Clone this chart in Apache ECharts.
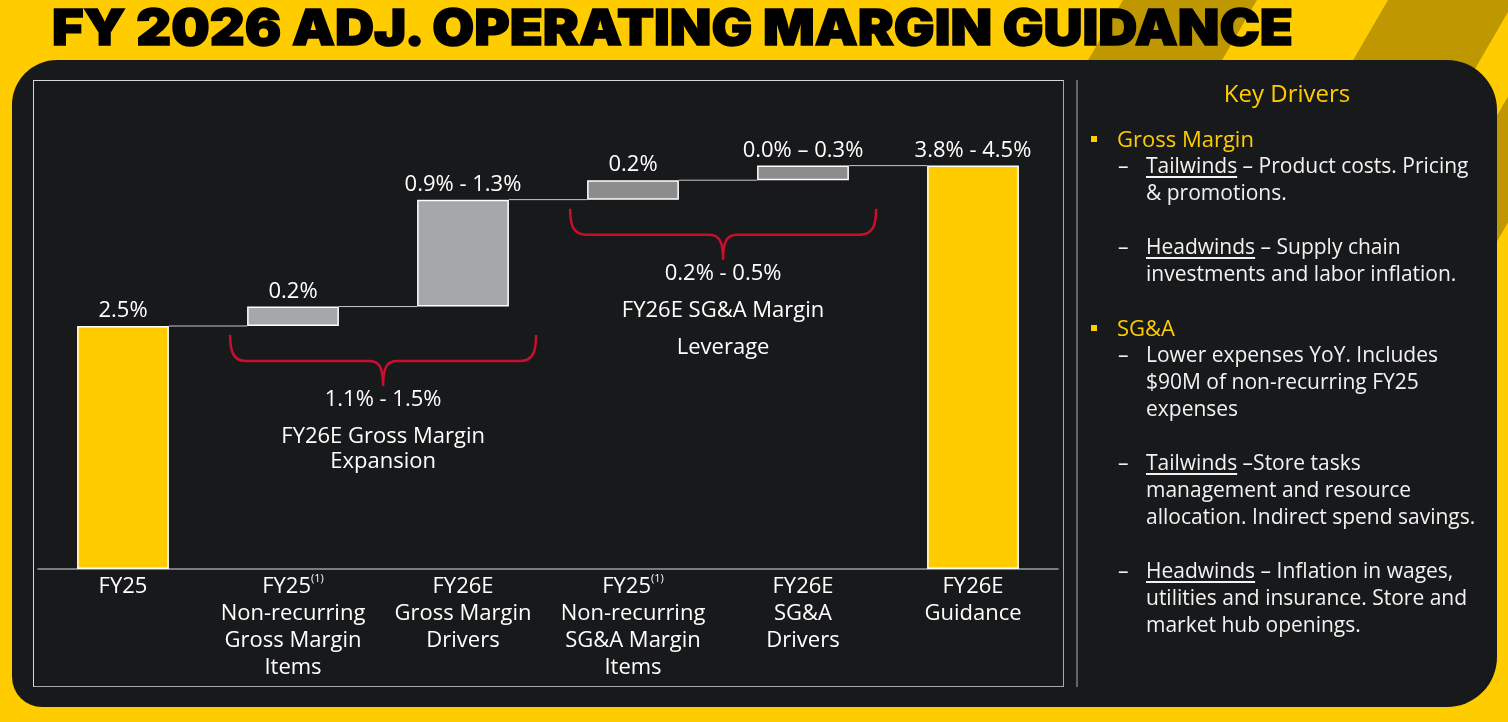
<!DOCTYPE html>
<html>
<head>
<meta charset="utf-8">
<script src="https://cdn.jsdelivr.net/npm/echarts@6/dist/echarts.min.js"></script>
<style>
body { margin: 0; width: 1508px; height: 722px; overflow: hidden; background: #FFCC00; position: relative; font-family: 'Open Sans', sans-serif; }
.stripe { position: absolute; left: 0; top: 0; width: 1508px; height: 722px; background: #BF9700; }
#title { position: absolute; left: 52px; top: 0px; font-family: 'Inter', 'Lato', sans-serif; font-weight: 900; font-size: 50px; line-height: 54px; color: #000; white-space: nowrap; -webkit-text-stroke: 1.5px #000; transform-origin: 0 0; }
#panel { position: absolute; left: 12px; top: 60px; width: 1485px; height: 647px; background: #18191B; border-radius: 45px 50px 50px 30px; }
#frame { position: absolute; left: 33px; top: 80px; width: 1029px; height: 605px; border: 1px solid #d6d6d6; border-right-color: #a8a8a8; border-bottom-color: #a8a8a8; }
#divider { position: absolute; left: 1076px; top: 80px; width: 2px; height: 607px; background: #666; }
#main { position: absolute; left: 0; top: 0; width: 1508px; height: 722px; }
#keyhead { position: absolute; left: 1077px; top: 77px; width: 420px; text-align: center; font-size: 24px; line-height: 32px; color: #FFCC00; }
#drivers { position: absolute; left: 1088px; top: 125px; width: 410px; color: #f2f2f2; font-size: 21px; }
#drivers div { position: relative; height: 27px; line-height: 27px; white-space: nowrap; }
#drivers .head { padding-left: 29px; color: #FFCC00; font-size: 22px; }
#drivers .head::before { content: ''; position: absolute; left: 3px; top: 11px; width: 6px; height: 6px; background: #FFCC00; }
#drivers .sub, #drivers .cont { padding-left: 58px; }
#drivers .sub::before { content: '–'; position: absolute; left: 30px; top: 0; }
#drivers u { text-decoration-thickness: 1.5px; text-underline-offset: 3px; }
</style>
</head>
<body>
<div class="stripe" style="clip-path: polygon(1123px 0, 1257px 0, 1112px 250px, 978px 250px);"></div>
<div class="stripe" style="clip-path: polygon(1388px 0, 1515px 0, 1370px 250px, 1243px 250px);"></div>
<div class="stripe" style="clip-path: polygon(1564px 0, 1637px 0, 1492px 250px, 1419px 250px);"></div>
<div id="title">FY 2026 ADJ. OPERATING MARGIN GUIDANCE</div>
<div id="panel"></div>
<div id="frame"></div>
<div id="divider"></div>
<div id="main"></div>
<div id="keyhead">Key Drivers</div>
<div id="drivers">
  <div class="head">Gross Margin</div>
  <div class="sub"><u>Tailwinds</u> – Product costs. Pricing</div>
  <div class="cont">&amp; promotions.</div>
  <div></div>
  <div class="sub"><u>Headwinds</u> – Supply chain</div>
  <div class="cont">investments and labor inflation.</div>
  <div></div>
  <div class="head">SG&amp;A</div>
  <div class="sub">Lower expenses YoY. Includes</div>
  <div class="cont">$90M of non-recurring FY25</div>
  <div class="cont">expenses</div>
  <div></div>
  <div class="sub"><u>Tailwinds</u> –Store tasks</div>
  <div class="cont">management and resource</div>
  <div class="cont">allocation. Indirect spend savings.</div>
  <div></div>
  <div class="sub"><u>Headwinds</u> – Inflation in wages,</div>
  <div class="cont">utilities and insurance. Store and</div>
  <div class="cont">market hub openings.</div>
</div>
<script>
// 标题拉宽到原图宽度
var title = document.getElementById('title');
title.style.transform = 'scaleX(' + (1241 / title.getBoundingClientRect().width) + ')';

// 数据
var categories = ['FY25', 'FY25\nNon-recurring\nGross Margin\nItems', 'FY26E\nGross Margin\nDrivers', 'FY25\nNon-recurring\nSG&A Margin\nItems', 'FY26E\nSG&A\nDrivers', 'FY26E\nGuidance'];
var footnoted = [false, true, false, true, false, false];
var startMargin = 2.5;
var steps = [0.2, 1.1, 0.2, 0.15];
var valueLabels = ['2.5%', '0.2%', '0.9% - 1.3%', '0.2%', '0.0% – 0.3%', '3.8% - 4.5%'];
var groupStart = [1, 3];
var groupEnd = [2, 4];
var groupRange = ['1.1% - 1.5%', '0.2% - 0.5%'];
var groupName = [['FY26E Gross Margin', 'Expansion'], ['FY26E SG&A Margin', 'Leverage']];

// 样式
var barColors = ['#FFCC00', '#A5A8AB', '#A5A8AB', '#8C8C8C', '#8C8C8C', '#FFCC00'];
var nameLineGap = [25, 37];
var font = "'Open Sans', sans-serif";

// 瀑布图的底座和高度
var heights = [startMargin];
var bases = [0];
var level = startMargin;
for (var i = 0; i < steps.length; i++) {
	bases.push(level);
	heights.push(steps[i]);
	level += steps[i];
}
bases.push(0);
heights.push(level);

var connectors = [];
for (var i = 0; i < heights.length - 1; i++) {
	connectors.push([i, bases[i] + heights[i]]);
}
var braces = [];
for (var i = 0; i < groupStart.length; i++) {
	braces.push([groupStart[i], groupEnd[i], bases[groupStart[i]], i]);
}

var myChart = echarts.init(document.getElementById('main'));
var option = {
	animation: false,
	grid: { left: 38, right: 450, top: 83, bottom: 153 },
	xAxis: {
		type: 'category',
		data: categories,
		axisLine: { lineStyle: { color: '#9d9d9d', width: 1.5 } },
		axisTick: { show: false },
		axisLabel: {
			interval: 0,
			margin: 4,
			color: '#fff',
			fontSize: 22,
			lineHeight: 27,
			fontFamily: font,
			formatter: function (value, idx) {
				var lines = value.split('\n');
				var out = [];
				for (var k = 0; k < lines.length; k++) {
					var s = '{a|' + lines[k] + '}';
					if (k == 0 && footnoted[idx]) s += '{sup|(1)}';
					out.push(s);
				}
				return out.join('\n');
			},
			rich: {
				a: { color: '#fff', fontSize: 22, lineHeight: 27, fontFamily: font },
				sup: { color: '#fff', fontSize: 11, lineHeight: 13, verticalAlign: 'top', fontFamily: font }
			}
		}
	},
	yAxis: { type: 'value', show: false, min: 0, max: 5 },
	series: [
		{
			type: 'custom',
			z: 1,
			data: connectors,
			encode: { x: 0, y: 1 },
			renderItem: function (params, api) {
				var p = api.coord([api.value(0), api.value(1)]);
				var band = api.size([1, 0])[0];
				return {
					type: 'line',
					shape: { x1: p[0] + band * 0.27, y1: p[1], x2: p[0] + band * 0.73, y2: p[1] },
					style: { stroke: '#c8c8c8', lineWidth: 1 }
				};
			}
		},
		{
			type: 'bar',
			stack: 'wf',
			barWidth: '54%',
			itemStyle: { color: 'transparent' },
			data: bases
		},
		{
			type: 'bar',
			stack: 'wf',
			barWidth: '54%',
			z: 3,
			data: heights.map(function (v, i) {
				return { value: v, itemStyle: { color: barColors[i] } };
			}),
			itemStyle: { borderColor: '#fff', borderWidth: 1.5 },
			label: {
				show: true,
				position: 'top',
				distance: 4,
				color: '#fff',
				fontSize: 22,
				fontFamily: font,
				formatter: function (p) { return valueLabels[p.dataIndex]; }
			}
		},
		{
			type: 'custom',
			z: 4,
			clip: false,
			data: braces,
			encode: { x: 0, y: 2 },
			renderItem: function (params, api) {
				var s = api.value(0), e = api.value(1), g = api.value(3);
				var band = api.size([1, 0])[0];
				var ps = api.coord([s, api.value(2)]);
				var pe = api.coord([e, api.value(2)]);
				var x0 = ps[0] - band / 2 + band * 0.13;
				var x1 = pe[0] + band / 2 - band * 0.07;
				var xc = (x0 + x1) / 2;
				var t = ps[1] + 9;
				var d = 'M' + x0 + ' ' + t +
					' C' + x0 + ' ' + (t + 18) + ' ' + (x0 + 4) + ' ' + (t + 26) + ' ' + (x0 + 16) + ' ' + (t + 26) +
					' L' + (xc - 14) + ' ' + (t + 26) +
					' C' + (xc - 4) + ' ' + (t + 26) + ' ' + xc + ' ' + (t + 32) + ' ' + xc + ' ' + (t + 51) +
					' M' + x1 + ' ' + t +
					' C' + x1 + ' ' + (t + 18) + ' ' + (x1 - 4) + ' ' + (t + 26) + ' ' + (x1 - 16) + ' ' + (t + 26) +
					' L' + (xc + 14) + ' ' + (t + 26) +
					' C' + (xc + 4) + ' ' + (t + 26) + ' ' + xc + ' ' + (t + 32) + ' ' + xc + ' ' + (t + 51);
				var ty = t + 65;
				var txt = { fill: '#fff', fontSize: 22, fontFamily: font, align: 'center', verticalAlign: 'middle' };
				return {
					type: 'group',
					children: [
						{ type: 'path', shape: { pathData: d }, style: { fill: null, stroke: '#C8102E', lineWidth: 2.5 } },
						{ type: 'text', x: xc, y: ty, style: Object.assign({ text: groupRange[g] }, txt) },
						{ type: 'text', x: xc, y: ty + 37, style: Object.assign({ text: groupName[g][0] }, txt) },
						{ type: 'text', x: xc, y: ty + 37 + nameLineGap[g], style: Object.assign({ text: groupName[g][1] }, txt) }
					]
				};
			}
		}
	]
};
myChart.setOption(option, true);
</script>
</body>
</html>
